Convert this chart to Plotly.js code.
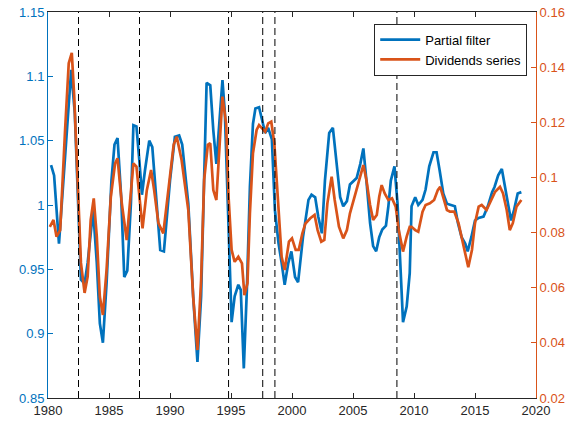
<!DOCTYPE html>
<html>
<head>
<meta charset="utf-8">
<script src="https://cdn.plot.ly/plotly-3.0.1.min.js"></script>
<style>html,body{margin:0;padding:0;background:#fff;}#chart{width:575px;height:428px;}</style>
</head>
<body>
<div id="chart"></div>
<script>
// Partial filter (left axis)
var filterYears = [1980.25,1980.5,1980.9,1981.9,1982.2,1982.5,1982.7,1983.0,1983.25,1983.7,1984.0,1984.25,1984.5,1984.8,1985.2,1985.45,1985.7,1986.0,1986.25,1986.5,1986.8,1987.0,1987.25,1987.5,1987.7,1987.95,1988.3,1988.55,1988.85,1989.2,1989.5,1990.0,1990.4,1990.75,1991.0,1991.5,1991.9,1992.25,1992.55,1992.8,1993.0,1993.3,1993.55,1993.8,1994.05,1994.3,1994.5,1994.8,1995.05,1995.3,1995.6,1995.8,1996.05,1996.3,1996.55,1996.8,1997.0,1997.3,1997.55,1997.8,1998.05,1998.35,1998.6,1998.9,1999.15,1999.4,1999.7,1999.95,2000.25,2000.5,2000.9,2001.35,2001.6,2001.9,2002.15,2002.45,2002.7,2003.05,2003.35,2003.65,2003.95,2004.2,2004.5,2004.75,2005.0,2005.3,2005.6,2005.85,2006.1,2006.4,2006.65,2006.9,2007.15,2007.4,2007.7,2007.9,2008.1,2008.4,2008.65,2008.9,2009.1,2009.4,2009.65,2009.8,2010.1,2010.35,2010.7,2010.95,2011.25,2011.6,2011.85,2012.1,2012.4,2012.7,2013.1,2013.35,2013.6,2013.9,2014.2,2014.4,2014.7,2015.0,2015.3,2015.7,2016.05,2016.4,2016.6,2016.9,2017.2,2017.45,2017.75,2017.95,2018.2,2018.5,2018.8];
var filterValues = [1.031,1.023,0.970,1.105,1.071,0.991,0.942,0.939,0.955,0.996,0.955,0.908,0.893,0.939,1.019,1.047,1.052,1.006,0.944,0.949,1.002,1.062,1.061,1.033,1.008,1.027,1.050,1.045,1.006,0.965,0.964,1.019,1.053,1.054,1.047,1.001,0.929,0.878,0.929,1.019,1.095,1.093,1.058,1.032,1.069,1.097,1.071,0.981,0.909,0.929,0.938,0.934,0.873,0.934,1.014,1.063,1.075,1.076,1.066,1.056,1.060,1.051,0.996,0.970,0.955,0.938,0.955,0.964,0.944,0.940,0.975,1.004,1.008,1.006,0.991,0.978,1.019,1.056,1.060,1.032,1.006,0.999,1.003,1.016,1.018,1.021,1.032,1.044,1.019,0.986,0.968,0.964,0.975,0.981,0.984,0.999,1.019,1.030,1.001,0.949,0.909,0.921,0.947,0.999,1.006,1.000,1.004,1.012,1.030,1.041,1.041,1.027,1.009,1.001,1.000,0.999,0.986,0.975,0.970,0.964,0.975,0.988,0.990,0.991,0.999,1.010,1.014,1.023,1.028,1.014,0.999,0.988,0.996,1.009,1.010];

// Dividends series (right axis)
var divYears = [1980.15,1980.45,1980.7,1981.0,1981.4,1981.7,1981.95,1982.15,1982.45,1982.7,1983.0,1983.25,1983.5,1983.75,1984.0,1984.25,1984.5,1984.8,1985.15,1985.5,1985.7,1986.05,1986.45,1986.7,1987.0,1987.25,1987.55,1987.75,1988.1,1988.45,1988.7,1989.05,1989.45,1990.0,1990.3,1990.55,1990.95,1991.5,1991.9,1992.25,1992.55,1992.8,1993.1,1993.3,1993.55,1993.8,1994.05,1994.3,1994.6,1994.8,1995.05,1995.3,1995.6,1995.9,1996.1,1996.35,1996.55,1996.8,1997.1,1997.3,1997.55,1997.8,1998.05,1998.3,1998.55,1998.9,1999.15,1999.4,1999.75,2000.0,2000.3,2000.55,2000.85,2001.1,2001.5,2001.85,2002.1,2002.4,2002.65,2002.9,2003.25,2003.5,2003.85,2004.2,2004.5,2004.75,2005.15,2005.6,2005.85,2006.1,2006.4,2006.65,2006.95,2007.15,2007.35,2007.6,2007.9,2008.2,2008.5,2008.75,2009.1,2009.4,2009.65,2009.8,2010.1,2010.35,2010.7,2010.95,2011.3,2011.65,2011.95,2012.15,2012.4,2012.7,2012.95,2013.3,2013.65,2013.9,2014.2,2014.45,2014.75,2015.0,2015.3,2015.55,2015.95,2016.3,2016.65,2017.05,2017.3,2017.6,2017.85,2018.1,2018.4,2018.8];
var divValues = [0.0821,0.0846,0.0785,0.0809,0.1172,0.1414,0.1452,0.1293,0.0966,0.0690,0.0581,0.0640,0.0846,0.0924,0.0785,0.0567,0.0501,0.0664,0.0930,0.1051,0.1069,0.0906,0.0773,0.0906,0.1051,0.1039,0.0906,0.0815,0.0954,0.1027,0.0954,0.0834,0.0797,0.1003,0.1118,0.1148,0.1063,0.0882,0.0567,0.0374,0.0628,0.0991,0.1118,0.1124,0.0954,0.0918,0.1112,0.1293,0.1196,0.0930,0.0737,0.0694,0.0712,0.0688,0.0573,0.0616,0.0870,0.1088,0.1172,0.1190,0.1178,0.1166,0.1196,0.1202,0.1124,0.0870,0.0712,0.0664,0.0767,0.0779,0.0737,0.0737,0.0797,0.0833,0.0852,0.0864,0.0809,0.0767,0.0773,0.0906,0.1003,0.0918,0.0821,0.0779,0.0809,0.0870,0.0936,0.1003,0.1045,0.0991,0.0900,0.0846,0.0864,0.0930,0.0972,0.0942,0.0918,0.0924,0.0894,0.0809,0.0731,0.0785,0.0821,0.0821,0.0809,0.0803,0.0876,0.0900,0.0906,0.0918,0.0954,0.0966,0.0930,0.0882,0.0876,0.0876,0.0834,0.0785,0.0725,0.0674,0.0737,0.0834,0.0894,0.0900,0.0882,0.0918,0.0948,0.0966,0.0942,0.0882,0.0809,0.0834,0.0894,0.0918];

// Vertical dashed break dates
var breakYears = [1982.5, 1987.5, 1994.8, 1997.6, 1998.6, 2008.6];

var xTicks = [1980,1985,1990,1995,2000,2005,2010,2015,2020];
var leftTicks = [0.85,0.9,0.95,1,1.05,1.1,1.15];
var rightTicks = [0.02,0.04,0.06,0.08,0.1,0.12,0.14,0.16];

var blue = '#0072BD', orange = '#D95319', dark = '#262626';

var traces = [
  {x: filterYears, y: filterValues, type: 'scatter', mode: 'lines', name: 'Partial filter',
   line: {color: blue, width: 2.7}, yaxis: 'y'},
  {x: divYears, y: divValues, type: 'scatter', mode: 'lines', name: 'Dividends series',
   line: {color: orange, width: 2.7}, yaxis: 'y2'}
];

var shapes = breakYears.map(function(b){
  return {type: 'line', xref: 'x', yref: 'paper', x0: b, x1: b, y0: 0, y1: 1,
          line: {color: '#000', width: 1, dash: '7px,4px'}, layer: 'above'};
});

var font = {family: 'Liberation Sans, Arial, sans-serif', size: 13};

var layout = {
  width: 575, height: 428,
  margin: {l: 48, r: 39, t: 12, b: 30},
  paper_bgcolor: '#fff', plot_bgcolor: '#fff',
  font: font,
  showlegend: true,
  legend: {x: 0.982, xanchor: 'right', y: 0.97, yanchor: 'top',
           bgcolor: '#fff', bordercolor: dark, borderwidth: 1,
           font: {family: 'Liberation Sans, Arial, sans-serif', size: 13, color: '#000'},
           tracegroupgap: 0, itemwidth: 40},
  xaxis: {range: [1980, 2020], tickvals: xTicks, ticks: 'inside', ticklen: 5,
          tickcolor: dark, linecolor: dark, linewidth: 1, showline: true, mirror: 'ticks',
          showgrid: false, zeroline: false, tickfont: {color: dark, size: 13}},
  yaxis: {range: [0.85, 1.15], tickvals: leftTicks, ticks: 'inside', ticklen: 5,
          tickcolor: blue, linecolor: blue, linewidth: 1, showline: true,
          showgrid: false, zeroline: false, tickfont: {color: blue, size: 13}},
  yaxis2: {range: [0.02, 0.16], tickvals: rightTicks, overlaying: 'y', side: 'right',
           ticks: 'inside', ticklen: 5, tickcolor: orange, linecolor: orange, linewidth: 1,
           showline: true, showgrid: false, zeroline: false, tickfont: {color: orange, size: 13}},
  shapes: shapes
};

Plotly.newPlot('chart', traces, layout, {displayModeBar: false, staticPlot: true});
</script>
</body>
</html>
